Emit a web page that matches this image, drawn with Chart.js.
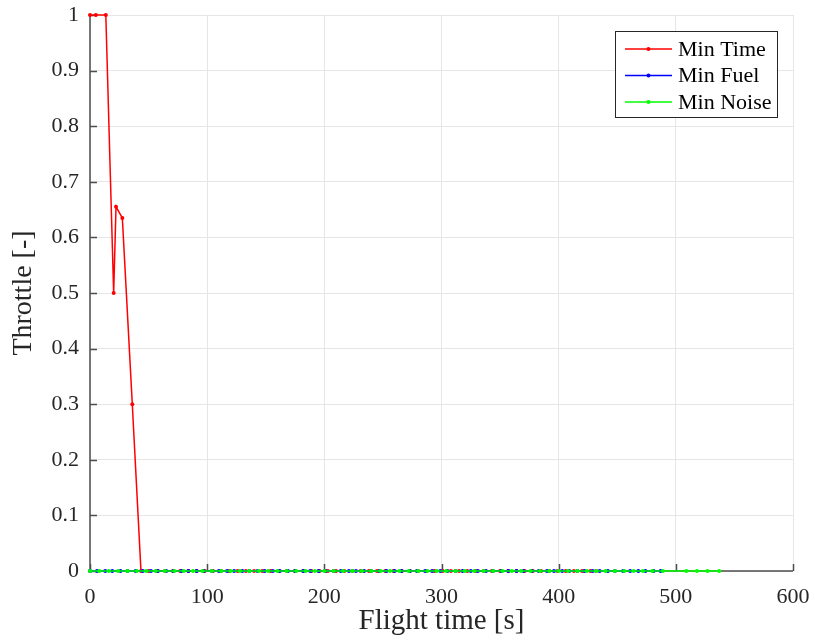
<!DOCTYPE html>
<html>
<head>
<meta charset="utf-8">
<title>Throttle</title>
<script src="https://cdn.jsdelivr.net/npm/chart.js@4/dist/chart.umd.min.js"></script>
<style>
  html, body { margin: 0; padding: 0; background: #fff; }
</style>
</head>
<body>
<canvas id="throttleChart" width="815" height="643"></canvas>
<script>
// Min Time: full throttle climb, then idle
const minTimeT = [
  0, 5, 13.5, 20.2, 22.2, 27.6, 36.1, 43.5, 50, 57,
  64, 71, 77, 84, 91, 98, 105, 112, 119, 126,
  133, 140, 147, 154, 161, 168, 175, 182, 189, 196,
  203, 210, 217, 224, 231, 238, 245, 252, 259, 266,
  273, 280, 287, 294, 301, 308, 315, 322, 329, 336,
  343, 350, 357, 364, 371, 378, 385, 392, 399, 406,
  413, 420, 427, 432
];
const minTimeThr = [
  1, 1, 1, 0.5, 0.655, 0.635, 0.30, 0, 0, 0,
  0, 0, 0, 0, 0, 0, 0, 0, 0, 0,
  0, 0, 0, 0, 0, 0, 0, 0, 0, 0,
  0, 0, 0, 0, 0, 0, 0, 0, 0, 0,
  0, 0, 0, 0, 0, 0, 0, 0, 0, 0,
  0, 0, 0, 0, 0, 0, 0, 0, 0, 0,
  0, 0, 0, 0
];

// Min Fuel
const minFuelT = [
  0, 6, 13, 19, 26, 32, 39, 45, 52, 58,
  65, 71, 78, 84, 91, 97, 104, 110, 117, 123,
  130, 136, 143, 149, 156, 162, 169, 175, 182, 188,
  195, 201, 208, 214, 221, 227, 234, 240, 247, 253,
  260, 266, 273, 279, 286, 292, 299, 305, 312, 318,
  325, 331, 338, 344, 351, 357, 364, 370, 377, 383,
  390, 396, 403, 409, 416, 422, 429, 435, 442, 448,
  455, 461, 468, 474, 481, 487
];
const minFuelThr = [
  0, 0, 0, 0, 0, 0, 0, 0, 0, 0,
  0, 0, 0, 0, 0, 0, 0, 0, 0, 0,
  0, 0, 0, 0, 0, 0, 0, 0, 0, 0,
  0, 0, 0, 0, 0, 0, 0, 0, 0, 0,
  0, 0, 0, 0, 0, 0, 0, 0, 0, 0,
  0, 0, 0, 0, 0, 0, 0, 0, 0, 0,
  0, 0, 0, 0, 0, 0, 0, 0, 0, 0,
  0, 0, 0, 0, 0, 0
];

// Min Noise
const minNoiseT = [
  0, 8, 16, 24, 32, 40, 48, 56, 64, 72,
  80, 88, 96, 104, 112, 120, 128, 136, 144, 152,
  160, 168, 176, 184, 192, 200, 208, 216, 224, 232,
  240, 248, 256, 264, 272, 280, 288, 296, 304, 312,
  320, 328, 336, 344, 352, 360, 368, 376, 384, 392,
  400, 408, 416, 424, 432, 440, 448, 456, 464, 472,
  480, 489, 509, 518, 527, 537
];
const minNoiseThr = [
  0, 0, 0, 0, 0, 0, 0, 0, 0, 0,
  0, 0, 0, 0, 0, 0, 0, 0, 0, 0,
  0, 0, 0, 0, 0, 0, 0, 0, 0, 0,
  0, 0, 0, 0, 0, 0, 0, 0, 0, 0,
  0, 0, 0, 0, 0, 0, 0, 0, 0, 0,
  0, 0, 0, 0, 0, 0, 0, 0, 0, 0,
  0, 0, 0, 0, 0, 0
];

const xTicks = [0, 100, 200, 300, 400, 500, 600];
const yTicks = [0, 0.1, 0.2, 0.3, 0.4, 0.5, 0.6, 0.7, 0.8, 0.9, 1];

const serif = "'Liberation Serif', 'Times New Roman', serif";
const axisColor = "#262626";

const pts = (t, v) => t.map((x, i) => ({ x: x, y: v[i] }));

const series = (label, t, v, color, order) => ({
  label: label,
  data: pts(t, v),
  borderColor: color,
  backgroundColor: color,
  borderWidth: 1.5,
  pointRadius: 2,
  pointBorderWidth: 0,
  pointBackgroundColor: color,
  tension: 0,
  clip: 6,
  order: order
});

// left/bottom axis lines with inward ticks, drawn under the data
const axesLines = {
  id: "axesLines",
  beforeDatasetsDraw(chart) {
    const { ctx, chartArea: a, scales: { x, y } } = chart;
    ctx.save();
    ctx.strokeStyle = "#4d4d4d";
    ctx.lineWidth = 1.5;
    ctx.beginPath();
    ctx.moveTo(a.left, a.top);
    ctx.lineTo(a.left, a.bottom);
    ctx.lineTo(a.right, a.bottom);
    yTicks.forEach(v => {
      const py = Math.round(y.getPixelForValue(v)) + 0.5;
      ctx.moveTo(a.left, py);
      ctx.lineTo(a.left + 7, py);
    });
    xTicks.forEach(v => {
      const px = Math.round(x.getPixelForValue(v)) + 0.5;
      ctx.moveTo(px, a.bottom);
      ctx.lineTo(px, a.bottom - 7);
    });
    ctx.stroke();
    ctx.restore();
  }
};

// boxed legend in the upper right corner
const legendBox = {
  id: "legendBox",
  afterDraw(chart) {
    const ctx = chart.ctx;
    const bx = 615, by = 31, bw = 162, bh = 86;
    ctx.save();
    ctx.fillStyle = "#fff";
    ctx.fillRect(bx, by, bw, bh);
    ctx.strokeStyle = axisColor;
    ctx.lineWidth = 1;
    ctx.strokeRect(bx + 0.5, by + 0.5, bw, bh);
    ctx.font = "22px " + serif;
    ctx.textBaseline = "middle";
    chart.data.datasets.forEach((ds, i) => {
      const ry = by + 18 + i * 26.5;
      ctx.strokeStyle = ds.borderColor;
      ctx.lineWidth = 1.5;
      ctx.beginPath();
      ctx.moveTo(bx + 10, ry);
      ctx.lineTo(bx + 57, ry);
      ctx.stroke();
      ctx.fillStyle = ds.borderColor;
      ctx.beginPath();
      ctx.arc(bx + 33.5, ry, 2, 0, Math.PI * 2);
      ctx.fill();
      ctx.fillStyle = "#000";
      ctx.fillText(ds.label, bx + 63, ry + 1);
    });
    ctx.restore();
  }
};

new Chart(document.getElementById("throttleChart"), {
  type: "line",
  data: {
    datasets: [
      series("Min Time", minTimeT, minTimeThr, "#ff0000", 2),
      series("Min Fuel", minFuelT, minFuelThr, "#0000ff", 1),
      series("Min Noise", minNoiseT, minNoiseThr, "#00ff00", 0)
    ]
  },
  options: {
    responsive: false,
    animation: false,
    layout: { padding: { top: 15, right: 22, bottom: 0, left: 0 } },
    plugins: { legend: { display: false }, tooltip: { enabled: false } },
    scales: {
      x: {
        type: "linear",
        min: 0,
        max: 600,
        afterBuildTicks: s => { s.ticks = xTicks.map(v => ({ value: v })); },
        ticks: { font: { family: serif, size: 22 }, color: axisColor, padding: 13, maxRotation: 0 },
        grid: { color: "#e6e6e6", lineWidth: 1, drawTicks: false },
        border: { display: false },
        title: {
          display: true,
          text: "Flight time [s]",
          font: { family: serif, size: 29 },
          color: axisColor,
          padding: 4
        },
        afterFit: s => {
          s.height = 72;
          s.paddingLeft = 0;
          s.paddingRight = 0;
        }
      },
      y: {
        type: "linear",
        min: 0,
        max: 1,
        afterBuildTicks: s => { s.ticks = yTicks.map(v => ({ value: v })); },
        ticks: {
          font: { family: serif, size: 22 },
          color: axisColor,
          padding: 11,
          callback: v => String(Math.round(v * 10) / 10)
        },
        grid: { color: "#e6e6e6", lineWidth: 1, drawTicks: false },
        border: { display: false },
        title: {
          display: true,
          text: "Throttle [-]",
          font: { family: serif, size: 28 },
          color: axisColor,
          padding: 7
        },
        afterFit: s => {
          s.width = 90;
          s.paddingTop = 0;
          s.paddingBottom = 0;
        }
      }
    }
  },
  plugins: [axesLines, legendBox]
});
</script>
</body>
</html>
